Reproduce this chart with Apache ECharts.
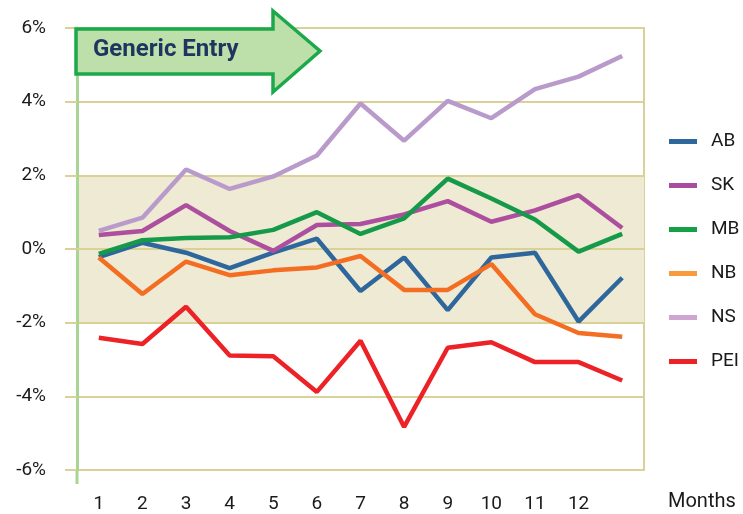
<!doctype html>
<html>
    <head>
        <meta charset="utf-8">
        <title>Generic Entry</title>
        <style>
            html, body { margin: 0; padding: 0; background: #fff; }
            #main { width: 743px; height: 514px; }
        </style>
    </head>
    <body>
        <div id="main"></div>
        <script src="https://cdn.jsdelivr.net/npm/echarts@6/dist/echarts.min.js"></script>
        <script>
            // 13 points per line, the last month has no label
            var months = ['1', '2', '3', '4', '5', '6', '7', '8', '9', '10', '11', '12', ''];

            var ab  = [-0.22, 0.17, -0.10, -0.52, -0.10, 0.28, -1.14, -0.23, -1.66, -0.23, -0.10, -1.97, -0.78];
            var sk  = [0.38, 0.49, 1.19, 0.49, -0.05, 0.65, 0.68, 0.94, 1.30, 0.74, 1.05, 1.46, 0.57];
            var mb  = [-0.13, 0.24, 0.30, 0.32, 0.52, 1.00, 0.41, 0.83, 1.91, 1.37, 0.80, -0.07, 0.41];
            var nb  = [-0.23, -1.22, -0.34, -0.71, -0.58, -0.50, -0.19, -1.11, -1.11, -0.41, -1.77, -2.28, -2.38];
            var ns  = [0.49, 0.85, 2.16, 1.63, 1.97, 2.54, 3.95, 2.94, 4.02, 3.55, 4.34, 4.68, 5.24];
            var pei = [-2.41, -2.58, -1.57, -2.89, -2.91, -3.88, -2.49, -4.83, -2.68, -2.53, -3.07, -3.07, -3.57];

            var yTicks = [-6, -4, -2, 0, 2, 4, 6];

            var font = "'Liberation Sans Narrow', Roboto, 'Liberation Sans', Arial, sans-serif";
            var khaki = '#DAD197';

            var lines = [
                { name: 'AB',  data: ab,  color: '#2E679B', legend: '#2E679B' },
                { name: 'SK',  data: sk,  color: '#AD4F9F', legend: '#A84E9E' },
                { name: 'MB',  data: mb,  color: '#159A49', legend: '#15A048' },
                { name: 'NB',  data: nb,  color: '#F36E22', legend: '#F89B3B' },
                { name: 'NS',  data: ns,  color: '#B99BCB', legend: '#CFA5D1' },
                { name: 'PEI', data: pei, color: '#EC2227', legend: '#EC2227' }
            ];

            var chart = echarts.init(document.getElementById('main'));

            chart.setOption({
                animation: false,
                textStyle: { fontFamily: font },
                grid: {
                    left: 77,
                    right: 99,
                    top: 28,
                    bottom: 44,
                    show: true,
                    borderColor: khaki,
                    borderWidth: 2,
                    backgroundColor: 'transparent'
                },
                legend: {
                    orient: 'vertical',
                    left: 664,
                    top: 127,
                    icon: 'rect',
                    itemWidth: 28,
                    itemHeight: 5,
                    itemGap: 25,
                    textStyle: {
                        fontFamily: font,
                        fontSize: 19,
                        color: '#1a1a1a',
                        padding: [0, 0, 0, 9]
                    },
                    data: lines.map(function (l) {
                        return { name: l.name, itemStyle: { color: l.legend } };
                    })
                },
                xAxis: {
                    type: 'category',
                    data: months,
                    boundaryGap: true,
                    axisLine: { lineStyle: { color: khaki, width: 2 } },
                    axisTick: {
                        interval: 0,
                        length: 11,
                        lineStyle: { color: khaki, width: 2 }
                    },
                    axisLabel: {
                        interval: 0,
                        margin: 25,
                        fontSize: 19,
                        color: '#1a1a1a'
                    },
                    splitLine: { show: false }
                },
                yAxis: {
                    type: 'value',
                    min: yTicks[0],
                    max: yTicks[yTicks.length - 1],
                    interval: 2,
                    axisLine: { show: true, lineStyle: { color: '#A9D594', width: 3 } },
                    axisTick: {
                        show: true,
                        length: 12,
                        lineStyle: { color: khaki, width: 2 }
                    },
                    axisLabel: {
                        margin: 31,
                        fontSize: 19,
                        color: '#1a1a1a',
                        formatter: '{value}%'
                    },
                    splitLine: { lineStyle: { color: khaki, width: 2 } },
                    splitArea: {
                        show: true,
                        areaStyle: {
                            color: ['rgba(0,0,0,0)', 'rgba(0,0,0,0)', '#EFEAD3', '#EFEAD3', 'rgba(0,0,0,0)', 'rgba(0,0,0,0)']
                        }
                    }
                },
                graphic: [
                    {
                        type: 'line',
                        shape: { x1: 77, y1: 470, x2: 77, y2: 484 },
                        style: { stroke: '#A9D594', lineWidth: 3 },
                        z: 5
                    },
                    {
                        type: 'polygon',
                        shape: {
                            points: [[76, 29], [273, 29], [273, 11], [320, 51], [273, 92], [273, 74], [76, 74]]
                        },
                        style: { fill: '#BDDFAA', stroke: '#1CA94B', lineWidth: 3.5 },
                        z: 10
                    },
                    {
                        type: 'text',
                        left: 93,
                        top: 38,
                        style: {
                            text: 'Generic Entry',
                            font: 'bold 24px ' + font,
                            fill: '#1E355F'
                        },
                        z: 11
                    },
                    {
                        type: 'text',
                        left: 668,
                        top: 492,
                        style: {
                            text: 'Months',
                            font: '20px ' + font,
                            fill: '#1a1a1a'
                        }
                    }
                ],
                series: lines.map(function (l) {
                    return {
                        name: l.name,
                        type: 'line',
                        data: l.data,
                        symbol: 'none',
                        color: l.color,
                        lineStyle: { width: 4.5, color: l.color },
                        z: 3
                    };
                })
            });

            window.onresize = chart.resize;
        </script>
    </body>
</html>
